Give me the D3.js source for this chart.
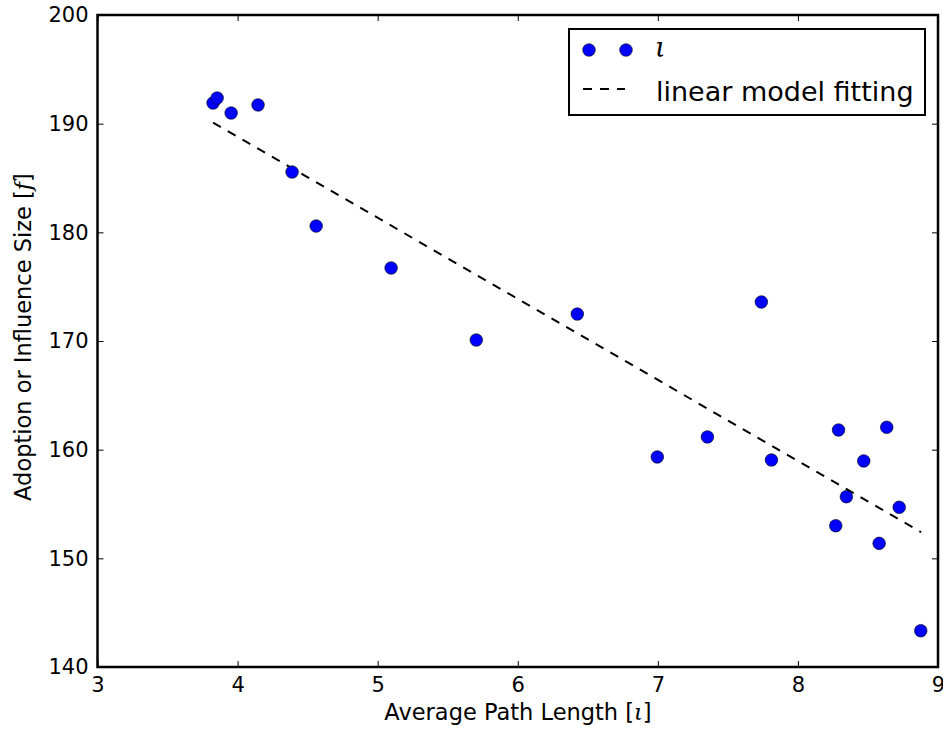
<!DOCTYPE html>
<html>
<head>
<meta charset="utf-8">
<script src="https://d3js.org/d3.v7.min.js"></script>
<style>
    body { margin: 0; background: #fff; }
    text { font-family: "DejaVu Sans", sans-serif; fill: #000; }
    .math { font-family: "DejaVu Serif", serif; font-style: italic; }
</style>
</head>
<body>
<div id="chart"></div>
<script>
// average path length (x) and adoption size (y)
var pathLength = [3.825, 3.854, 3.954, 4.146, 4.389, 4.561, 5.096, 5.704, 6.425, 6.996,
                  7.354, 7.739, 7.811, 8.29, 8.634, 8.47, 8.346, 8.723, 8.27, 8.58, 8.877];
var adoption = [191.9, 192.36, 190.98, 191.72, 185.55, 180.58, 176.72, 170.09, 172.48, 159.33,
                161.17, 173.59, 159.05, 161.81, 162.06, 158.96, 155.67, 154.70, 153.0, 151.38, 143.34];
// endpoints of the fitted line
var fitX = [3.825, 8.88];
var fitY = [190.1, 152.4];

var xTicks = [3, 4, 5, 6, 7, 8, 9];
var yTicks = [140, 150, 160, 170, 180, 190, 200];

var W = 943, H = 731;
var margin = { top: 15, right: 5, bottom: 64, left: 97.5 };
var width = 938 - margin.left;
var height = 667 - margin.top;

var svg = d3.select("#chart").append("svg")
    .attr("width", W)
    .attr("height", H);
var g = svg.append("g")
    .attr("transform", "translate(" + margin.left + "," + margin.top + ")");

var x = d3.scaleLinear().domain([3, 9]).range([0, width]);
var y = d3.scaleLinear().domain([140, 200]).range([height, 0]);

// ticks inward on all four sides
function styleAxis(sel) {
    sel.select(".domain").remove();
    sel.selectAll(".tick line").attr("stroke", "#000").attr("stroke-width", 1);
    sel.selectAll(".tick text").style("font-size", "21px").attr("fill", "#000");
}
g.append("g")
    .attr("transform", "translate(0," + height + ")")
    .call(d3.axisBottom(x).tickValues(xTicks).tickSizeInner(-6).tickPadding(10).tickFormat(d3.format("d")))
    .call(styleAxis);
g.append("g")
    .call(d3.axisTop(x).tickValues(xTicks).tickSizeInner(-6).tickFormat(""))
    .call(styleAxis);
g.append("g")
    .call(d3.axisLeft(y).tickValues(yTicks).tickSizeInner(-6).tickPadding(9).tickFormat(d3.format("d")))
    .call(styleAxis);
g.append("g")
    .attr("transform", "translate(" + width + ",0)")
    .call(d3.axisRight(y).tickValues(yTicks).tickSizeInner(-6).tickFormat(""))
    .call(styleAxis);

// fitted line
g.append("path")
    .datum(d3.range(fitX.length))
    .attr("fill", "none")
    .attr("stroke", "#000")
    .attr("stroke-width", 2)
    .attr("stroke-dasharray", "9,8")
    .attr("d", d3.line()
        .x(function (i) { return x(fitX[i]); })
        .y(function (i) { return y(fitY[i]); }));

// points
g.selectAll(".dot")
    .data(d3.range(pathLength.length))
    .enter()
    .append("circle")
    .attr("class", "dot")
    .attr("cx", function (i) { return x(pathLength[i]); })
    .attr("cy", function (i) { return y(adoption[i]); })
    .attr("r", 6.3)
    .attr("fill", "#0000ff")
    .attr("stroke", "#000")
    .attr("stroke-width", 0.6);

// frame
g.append("rect")
    .attr("width", width)
    .attr("height", height)
    .attr("fill", "none")
    .attr("stroke", "#000")
    .attr("stroke-width", 2.5);

// axis labels
var xl = svg.append("text")
    .attr("x", 518)
    .attr("y", 720)
    .attr("text-anchor", "middle")
    .style("font-size", "22.5px");
xl.append("tspan").text("Average Path Length [");
xl.append("tspan").attr("class", "math").text("ι");
xl.append("tspan").text("]");

var yl = svg.append("text")
    .attr("transform", "translate(31,337) rotate(-90)")
    .attr("text-anchor", "middle")
    .style("font-size", "22.5px");
yl.append("tspan").text("Adoption or Influence Size [");
yl.append("tspan").attr("class", "math").text("f");
yl.append("tspan").text("]");

// legend
var leg = svg.append("g");
leg.append("rect")
    .attr("x", 569).attr("y", 29)
    .attr("width", 356).attr("height", 86)
    .attr("fill", "#fff")
    .attr("stroke", "#000")
    .attr("stroke-width", 2);
[589, 626].forEach(function (cx) {
    leg.append("circle")
        .attr("cx", cx).attr("cy", 50).attr("r", 6.3)
        .attr("fill", "#0000ff").attr("stroke", "#000").attr("stroke-width", 0.6);
});
leg.append("text")
    .attr("class", "math")
    .attr("x", 655).attr("y", 57)
    .style("font-size", "27px")
    .text("ι");
leg.append("line")
    .attr("x1", 583).attr("x2", 625)
    .attr("y1", 89).attr("y2", 89)
    .attr("stroke", "#000").attr("stroke-width", 2)
    .attr("stroke-dasharray", "9,8");
leg.append("text")
    .attr("x", 656).attr("y", 101)
    .style("font-size", "27px")
    .text("linear model fitting");
</script>
</body>
</html>
